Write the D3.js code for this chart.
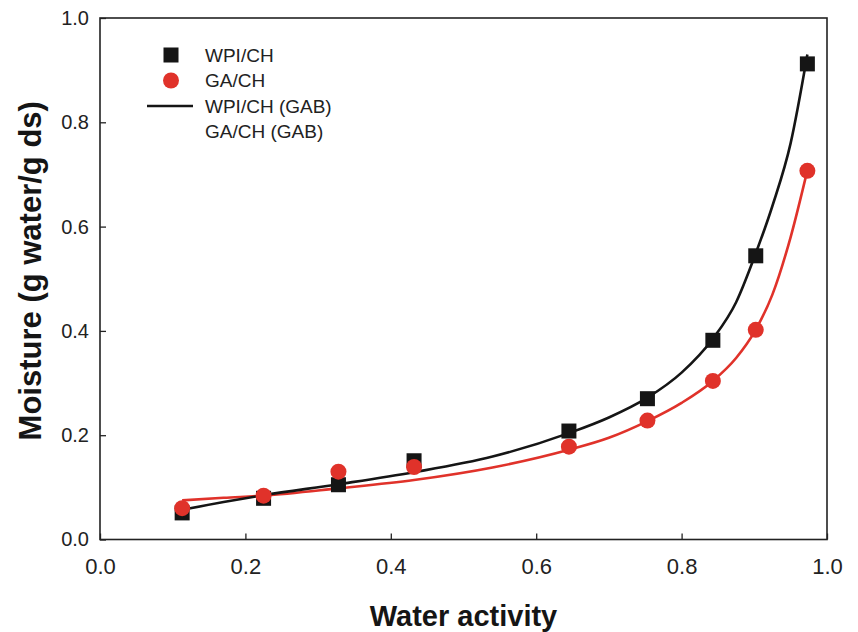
<!DOCTYPE html>
<html>
<head>
<meta charset="utf-8">
<script src="https://cdn.jsdelivr.net/npm/d3@7"></script>
<style>
  body { margin: 0; background: #fff; }
  text { font-family: "Liberation Sans", Arial, sans-serif; }
</style>
</head>
<body>
<div id="chart"></div>
<script>
// measured points
const awPoints = [0.113, 0.225, 0.328, 0.432, 0.645, 0.753, 0.843, 0.902, 0.973];
const wpiMoisture = [0.051, 0.079, 0.105, 0.151, 0.208, 0.270, 0.382, 0.544, 0.912];
const gaMoisture = [0.060, 0.084, 0.130, 0.139, 0.178, 0.228, 0.304, 0.402, 0.707];

// GAB fitted curves
const awCurve = [0.113, 0.17, 0.225, 0.328, 0.432, 0.54, 0.645, 0.70, 0.753, 0.80, 0.843, 0.875, 0.901, 0.925, 0.95, 0.973];
const wpiGab = [0.057, 0.072, 0.085, 0.106, 0.129, 0.159, 0.204, 0.234, 0.272, 0.320, 0.385, 0.455, 0.545, 0.640, 0.760, 0.930];
const gaGab = [0.075, 0.080, 0.084, 0.098, 0.114, 0.138, 0.172, 0.195, 0.227, 0.262, 0.304, 0.348, 0.400, 0.470, 0.580, 0.708];

const xTicks = [0.0, 0.2, 0.4, 0.6, 0.8, 1.0];
const yTicks = [0.0, 0.2, 0.4, 0.6, 0.8, 1.0];

const legendLabels = ["WPI/CH", "GA/CH", "WPI/CH (GAB)", "GA/CH (GAB)"];

const black = "#151515", red = "#e0322a";

const margin = { top: 18, right: 31, bottom: 92.5, left: 100 },
    width = 858 - margin.left - margin.right,
    height = 632 - margin.top - margin.bottom;

const svg = d3.select("#chart")
    .append("svg")
    .attr("width", 858)
    .attr("height", 632)
    .append("g")
    .attr("transform", `translate(${margin.left},${margin.top})`);

const x = d3.scaleLinear().domain([0, 1]).range([0, width]);
const y = d3.scaleLinear().domain([0, 1]).range([height, 0]);

// X axis
const xAxis = svg.append("g")
    .attr("transform", `translate(0,${height})`)
    .call(d3.axisBottom(x).tickValues(xTicks).tickFormat(d3.format(".1f"))
        .tickSizeInner(-6).tickSizeOuter(0).tickPadding(18.5));
xAxis.selectAll("text").style("font-size", "22px").attr("fill", "#222");

// Y axis
const yAxis = svg.append("g")
    .call(d3.axisLeft(y).tickValues(yTicks).tickFormat(d3.format(".1f"))
        .tickSizeInner(-6).tickSizeOuter(0).tickPadding(11));
yAxis.selectAll("text").style("font-size", "20px").attr("fill", "#222");

svg.selectAll(".domain").remove();
svg.selectAll(".tick line").attr("stroke", "#222").attr("stroke-width", 1.3);

// frame
svg.append("rect")
    .attr("width", width)
    .attr("height", height)
    .attr("fill", "none")
    .attr("stroke", "#222")
    .attr("stroke-width", 1.6);

// curves
const line = d3.line()
    .x(d => x(d[0]))
    .y(d => y(d[1]))
    .curve(d3.curveMonotoneX);

svg.append("path")
    .datum(awCurve.map((a, i) => [a, gaGab[i]]))
    .attr("d", line)
    .attr("fill", "none")
    .attr("stroke", red)
    .attr("stroke-width", 2.6);

svg.append("path")
    .datum(awCurve.map((a, i) => [a, wpiGab[i]]))
    .attr("d", line)
    .attr("fill", "none")
    .attr("stroke", black)
    .attr("stroke-width", 2.6);

// markers
const sq = 15;
svg.selectAll(".wpi")
    .data(awPoints.map((a, i) => [a, wpiMoisture[i]]))
    .join("rect")
    .attr("x", d => x(d[0]) - sq / 2)
    .attr("y", d => y(d[1]) - sq / 2)
    .attr("width", sq)
    .attr("height", sq)
    .attr("fill", black);

svg.selectAll(".ga")
    .data(awPoints.map((a, i) => [a, gaMoisture[i]]))
    .join("circle")
    .attr("cx", d => x(d[0]))
    .attr("cy", d => y(d[1]))
    .attr("r", 8)
    .attr("fill", red);

// legend
const lg = svg.append("g").attr("transform", "translate(71,37)");
lg.append("rect").attr("x", -7.5).attr("y", -7.5).attr("width", sq).attr("height", sq).attr("fill", black);
lg.append("circle").attr("cy", 25.5).attr("r", 8).attr("fill", red);
lg.append("line").attr("x1", -24).attr("x2", 22).attr("y1", 51).attr("y2", 51)
    .attr("stroke", black).attr("stroke-width", 2.6);
lg.selectAll(".lt")
    .data(legendLabels)
    .join("text")
    .attr("x", 34)
    .attr("y", (d, i) => i * 25.5)
    .attr("dy", "0.35em")
    .style("font-size", "19px")
    .attr("fill", "#222")
    .text(d => d);

// axis titles
svg.append("text")
    .attr("x", width / 2)
    .attr("y", height + 86)
    .attr("text-anchor", "middle")
    .style("font-size", "29px")
    .style("font-weight", "bold")
    .attr("fill", "#151515")
    .text("Water activity");

svg.append("text")
    .attr("transform", `translate(${41 - margin.left},${height / 2 - 8}) rotate(-90)`)
    .attr("text-anchor", "middle")
    .style("font-size", "31px")
    .style("font-weight", "bold")
    .attr("fill", "#151515")
    .text("Moisture (g water/g ds)");
</script>
</body>
</html>
